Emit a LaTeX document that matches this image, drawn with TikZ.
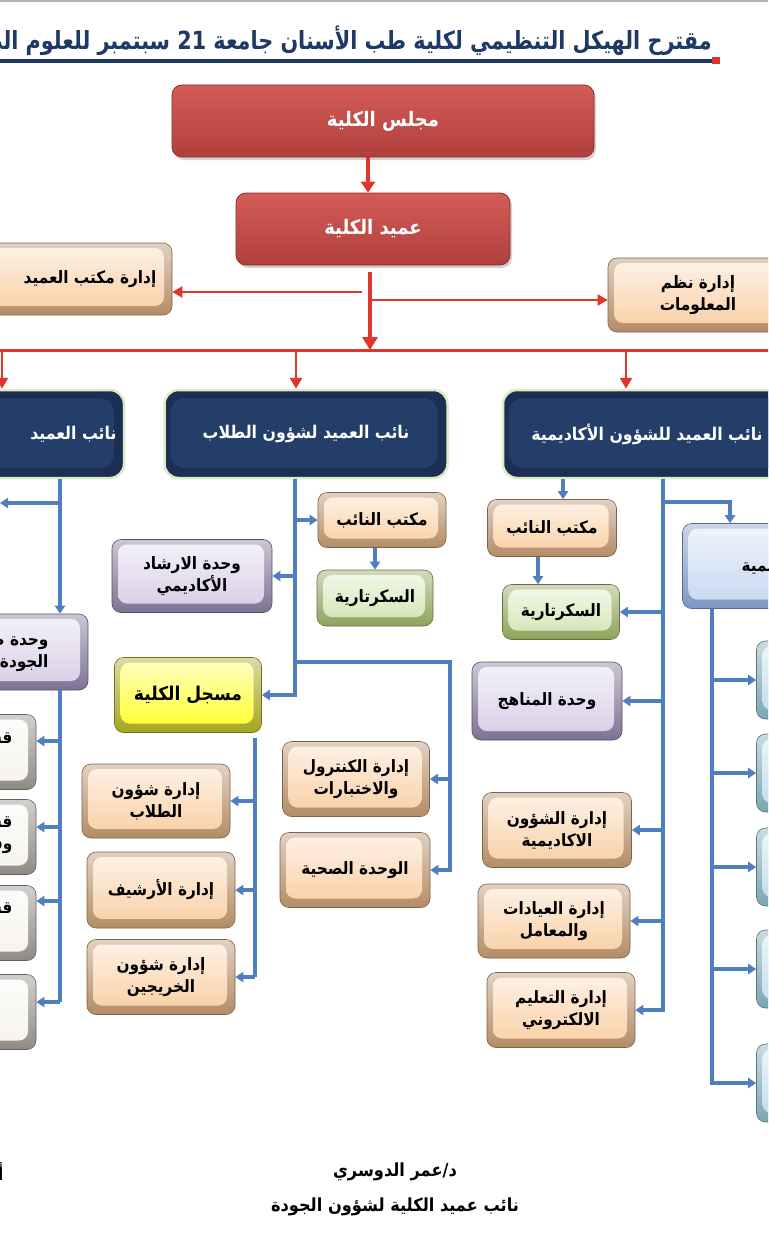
\documentclass[tikz,border=0pt]{standalone}
\usepackage{fontspec}
\newfontfamily\arabicfont[Script=Arabic,FakeStretch=0.9]{DejaVu Sans}
\newfontfamily\titlefont[Script=Arabic,FakeStretch=0.83]{DejaVu Sans}
\TeXXeTstate=1
\usetikzlibrary{arrows.meta,shadows}
\newcommand\artxt[1]{\beginR #1\endR}
\definecolor{tanA}{HTML}{B48C66}\definecolor{tanB}{HTML}{F9CEA2}
\definecolor{grnA}{HTML}{8DA35C}\definecolor{grnB}{HTML}{D3E3B0}
\definecolor{lavA}{HTML}{7E7294}\definecolor{lavB}{HTML}{D6CCE6}
\definecolor{yelA}{HTML}{A5A521}\definecolor{yelB}{HTML}{FFFF22}
\definecolor{gryA}{HTML}{8F8A84}\definecolor{gryB}{HTML}{F6F3EE}
\definecolor{bluA}{HTML}{7D98C2}\definecolor{bluB}{HTML}{C4D6EF}
\definecolor{tlA}{HTML}{7AA6B4}\definecolor{tlB}{HTML}{BFDCE6}
\definecolor{redA}{HTML}{8E2E2A}\definecolor{redT}{HTML}{D35C57}\definecolor{redB}{HTML}{B0403C}
\definecolor{navy}{HTML}{1A2F52}\definecolor{navyT}{HTML}{233F69}\definecolor{glow}{HTML}{DCEBC6}
\definecolor{arrowred}{HTML}{E0352B}\definecolor{lineblue}{HTML}{4F7FBF}\definecolor{titlenavy}{HTML}{1F3864}
\begin{document}
\begin{tikzpicture}[x=1pt,y=-1pt,>={Triangle[width=10pt,length=8pt]},
  font=\arabicfont\bfseries\fontsize{17}{22}\selectfont,
  bevel/.style 2 args={rounded corners=9pt,inner sep=0pt,draw=#1!70!black,line width=0.6pt,
    top color=#1!40!white,bottom color=#1,
    path picture={\shade[top color=#2!25!white,bottom color=#2]
      ([shift={(6pt,9pt)}]path picture bounding box.south west) rectangle
      ([shift={(-8pt,-5pt)}]path picture bounding box.north east);}},
  tanbox/.style={bevel={tanA}{tanB}},
  grnbox/.style={bevel={grnA}{grnB}},
  lavbox/.style={bevel={lavA}{lavB}},
  yelbox/.style={bevel={yelA}{yelB}},
  grybox/.style={bevel={gryA}{gryB}},
  blubox/.style={bevel={bluA}{bluB}},
  tlbox/.style={bevel={tlA}{tlB}},
  redbox/.style={rounded corners=10pt,inner sep=0pt,draw=redA,line width=0.8pt,top color=redT,bottom color=redB,
    drop shadow={opacity=0.35,shadow xshift=2pt,shadow yshift=-3pt},
    text=white,font=\arabicfont\bfseries\fontsize{20}{24}\selectfont},
  vpbox/.style={rounded corners=14pt,inner sep=0pt,draw=glow,line width=2.5pt,fill=navy,text=white,
    font=\arabicfont\bfseries\fontsize{17.5}{21}\selectfont,
    path picture={\fill[navyT] ([shift={(6pt,10pt)}]path picture bounding box.south west) rectangle
      ([shift={(-10pt,-8pt)}]path picture bounding box.north east);}},
  bl/.style={draw=lineblue,line width=3.5pt},
  rd/.style={draw=arrowred,line width=2pt}]
\useasboundingbox (0,0) rectangle (768,1244);
\fill[white] (0,0) rectangle (768,1244);
\clip (0,0) rectangle (768,1244);
\draw[gray!60,line width=1.5pt] (0,1) -- (768,1);
\node[anchor=south east,text=titlenavy,font=\titlefont\bfseries\fontsize{25}{30}\selectfont,inner sep=0pt] (title) at (712,56)
  {\artxt{مقترح الهيكل التنظيمي لكلية طب الأسنان جامعة \beginL 21\endL{} سبتمبر للعلوم الطبية}};
\draw[titlenavy,line width=3.5pt] (712,61) -- (0,61);
\fill[arrowred] (712,57) rectangle (720,64);
\node[redbox,minimum width=422,minimum height=72] (council) at (383,121) {\artxt{مجلس الكلية}};
\node[redbox,minimum width=274,minimum height=72] (dean) at (373,229) {\artxt{عميد الكلية}};
\node[tanbox,minimum width=232,minimum height=72] (deanoffice) at (56,279) {};
\node (deanofficet) at (90,279) {\artxt{إدارة مكتب العميد}};
\node[tanbox,minimum width=180,minimum height=74,align=center] (infosys) at (698,295) {\artxt{إدارة نظم}\\\artxt{المعلومات}};
\draw[rd,line width=4pt,-{Triangle[width=14pt,length=11pt]}] (council.south -| 368,0) -- (dean.north -| 368,0);
\coordinate (dj) at (370,272);
\coordinate (bar) at (0,350);
\draw[rd,line width=4pt,-{Triangle[width=15pt,length=13pt]}] (dj) -- (dj |- bar);
\coordinate (dl) at (362,292);
\coordinate (dr) at (372,300);
\draw[rd,-{Triangle[width=11pt,length=10pt]}] (dl) -- (dl -| deanoffice.east);
\draw[rd,-{Triangle[width=11pt,length=10pt]}] (dr) -- (dr -| infosys.west);
\draw[rd,line width=3pt] (-10,350) -- (780,350);
\node[vpbox,minimum width=324,minimum height=88] (vpq) at (-38,434) {};
\node[anchor=east,text=white,font=\arabicfont\bfseries\fontsize{17.5}{21}\selectfont] (vpqt) at (120,434) {\artxt{نائب العميد}};
\node[vpbox,minimum width=283,minimum height=88] (vps) at (306,434) {\artxt{نائب العميد لشؤون الطلاب}};
\node[vpbox,minimum width=288,minimum height=88] (vpa) at (647,434) {\artxt{نائب العميد للشؤون الأكاديمية}};
\foreach \x/\n in {2/vpq,296/vps,626/vpa} \draw[rd,line width=2.5pt,-{Triangle[width=12pt,length=11pt]}] (\x,350) -- (\n.north -| \x,0);
\node[lavbox,minimum width=238,minimum height=76] (quality) at (-31,652) {};
\node[anchor=east,align=right] (qualityt) at (52,652) {\artxt{وحدة ضمان}\\\artxt{الجودة}};
\foreach \i/\y in {1/752,2/837,3/923,4/1012} \node[grybox,minimum width=186,minimum height=75] (sec\i) at (-57,\y) {};
\node[anchor=east] (sec1t) at (16,740) {\artxt{قسم}};
\node[anchor=east,align=right] (sec2t) at (16,835) {\artxt{قسم}\\\artxt{وقسم}};
\node[anchor=east] (sec3t) at (16,910) {\artxt{قسم}};
\coordinate (qv) at (60,0);
\coordinate (offq) at (0,503);
\draw[bl,->] (qv |- vpq.south) -- (qv |- quality.north);
\draw[bl,->] (qv |- offq) -- (offq);
\draw[bl] (qv |- quality.south) -- (qv |- 0,1002);
\foreach \i/\y in {1/741,2/827,3/901,4/1002} \draw[bl,->] (qv |- 0,\y) -- (sec\i.east |- 0,\y);
\node[tanbox,minimum width=128,minimum height=55] (stuoffice) at (382,520) {\artxt{مكتب النائب}};
\node[grnbox,minimum width=116,minimum height=56] (stusec) at (375,598) {\artxt{السكرتارية}};
\node[lavbox,minimum width=160,minimum height=73,align=center] (guidance) at (192,576) {\artxt{وحدة الارشاد}\\\artxt{الأكاديمي}};
\node[yelbox,minimum width=147,minimum height=75,font=\arabicfont\bfseries\fontsize{19}{22}\selectfont] (registrar) at (188,695) {\artxt{مسجل الكلية}};
\node[tanbox,minimum width=148,minimum height=74,align=center] (stuaff) at (156,801) {\artxt{إدارة شؤون}\\\artxt{الطلاب}};
\node[tanbox,minimum width=148,minimum height=76] (archive) at (161,890) {\artxt{إدارة الأرشيف}};
\node[tanbox,minimum width=148,minimum height=75,align=center] (alumni) at (161,977) {\artxt{إدارة شؤون}\\\artxt{الخريجين}};
\node[tanbox,minimum width=147,minimum height=75,align=center] (control) at (356,779) {\artxt{إدارة الكنترول}\\\artxt{والاختبارات}};
\node[tanbox,minimum width=150,minimum height=75] (health) at (355,870) {\artxt{الوحدة الصحية}};
\coordinate (sv) at (295,0);
\coordinate (hv) at (450,0);
\coordinate (rv) at (255,0);
\draw[bl,->] (sv |- vps.south) |- (registrar.east);
\draw[bl,->] (sv |- stuoffice.west) -- (stuoffice.west);
\draw[bl,->] (sv |- guidance.east) -- (guidance.east);
\draw[bl,->] (stuoffice.south -| stusec.north) -- (stusec.north);
\draw[bl,->] (sv |- 0,662) -| (hv |- health.east) -- (health.east);
\draw[bl,->] (hv |- control.east) -- (control.east);
\draw[bl] (rv |- 0,738) -- (rv |- alumni.east);
\foreach \n in {stuaff,archive,alumni} \draw[bl,->] (rv |- \n.east) -- (\n.east);
\node[tanbox,minimum width=129,minimum height=57] (acaoffice) at (552,528) {\artxt{مكتب النائب}};
\node[grnbox,minimum width=117,minimum height=55] (acasec) at (561,612) {\artxt{السكرتارية}};
\node[lavbox,minimum width=150,minimum height=78] (curric) at (547,701) {\artxt{وحدة المناهج}};
\node[tanbox,minimum width=149,minimum height=75,align=center] (acaaff) at (557,830) {\artxt{إدارة الشؤون}\\\artxt{الاكاديمية}};
\node[tanbox,minimum width=152,minimum height=74,align=center] (clinics) at (554,921) {\artxt{إدارة العيادات}\\\artxt{والمعامل}};
\node[tanbox,minimum width=148,minimum height=75,align=center] (elearn) at (561,1010) {\artxt{إدارة التعليم}\\\artxt{الالكتروني}};
\node[blubox,minimum width=217,minimum height=85] (depts) at (791,566) {};
\node[anchor=west] (deptst) at (738,566) {\artxt{الأقسام العلمية}};
\foreach \i/\y in {1/680,2/773,3/867,4/969,5/1083} \node[tlbox,minimum width=143,minimum height=78] (dep\i) at (828,\y) {};
\coordinate (av) at (663,0);
\coordinate (av1) at (563,0);
\coordinate (dv) at (712,0);
\draw[bl,->] (av1 |- vpa.south) -- (av1 |- acaoffice.north);
\draw[bl,->] (acaoffice.south -| 538,0) -- (acasec.north -| 538,0);
\draw[bl,->] (av |- vpa.south) |- (elearn.east);
\draw[bl,->] (av |- 0,502) -| (depts.north -| 730,0);
\foreach \n in {acasec,curric,acaaff,clinics} \draw[bl,->] (av |- \n.east) -- (\n.east);
\draw[bl,->] (dv |- depts.south) |- (dep5.west);
\foreach \i in {1,...,4} \draw[bl,->] (dv |- dep\i.west) -- (dep\i.west);
\node[font=\arabicfont\bfseries\fontsize{18}{22}\selectfont] (sign) at (395,1172) {\artxt{د/عمر الدوسري}};
\node[font=\arabicfont\bfseries\fontsize{18}{22}\selectfont] (signrole) at (395,1207) {\artxt{نائب عميد الكلية لشؤون الجودة}};
\node[anchor=east,font=\arabicfont\bfseries\fontsize{18}{22}\selectfont] (signleft) at (7,1172) {\artxt{أ}};
\end{tikzpicture}
\end{document}
